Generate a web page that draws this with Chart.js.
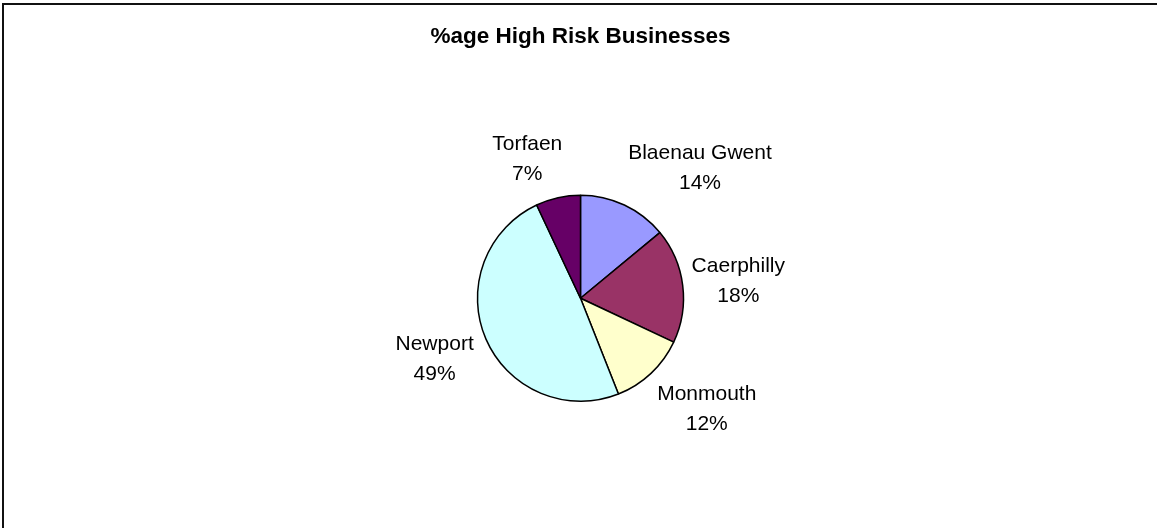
<!DOCTYPE html>
<html lang="en">
<head>
    <meta charset="UTF-8">
    <title>%age High Risk Businesses</title>
    <script src="https://cdn.jsdelivr.net/npm/chart.js"></script>
    <style>
        html, body {
            margin: 0;
            padding: 0;
            background: #fff;
            overflow: hidden;
        }
        .frame {
            position: absolute;
            left: 2px;
            top: 3px;
            width: 1200px;
            height: 600px;
            border-left: 2px solid #111;
            border-top: 2px solid #111;
        }
        .chart-container {
            position: relative;
            width: 1157px;
            height: 528px;
        }
    </style>
</head>
<body>
    <div class="frame"></div>
    <div class="chart-container">
        <canvas id="pieChart"></canvas>
    </div>
    <script>
        const chartTitle = '%age High Risk Businesses';
        const areas = ['Blaenau Gwent', 'Caerphilly', 'Monmouth', 'Newport', 'Torfaen'];
        const shares = [14, 18, 12, 49, 7];
        const sliceColors = ['#9999FF', '#993366', '#FFFFCC', '#CCFFFF', '#660066'];

        const fontFamily = "'Liberation Sans', Arial, sans-serif";

        // Excel-style "outside end" labels: name on top, percentage below
        const outsideLabels = {
            id: 'outsideLabels',
            afterDatasetsDraw(chart) {
                const ctx = chart.ctx;
                const meta = chart.getDatasetMeta(0);
                const values = chart.data.datasets[0].data;
                const total = values.reduce((s, v) => s + v, 0);
                const clamp = v => Math.max(-1, Math.min(1, v));
                ctx.save();
                ctx.font = '21px ' + fontFamily;
                ctx.fillStyle = '#000';
                ctx.textAlign = 'center';
                ctx.textBaseline = 'alphabetic';
                meta.data.forEach((arc, i) => {
                    const p = arc.getProps(['x', 'y', 'startAngle', 'endAngle', 'outerRadius'], true);
                    const mid = (p.startAngle + p.endAngle) / 2;
                    const name = chart.data.labels[i];
                    const pct = Math.round(values[i] / total * 100) + '%';
                    const w = Math.max(ctx.measureText(name).width, ctx.measureText(pct).width);
                    const h = 45;
                    const dx = p.outerRadius + 9;
                    const dy = p.outerRadius + 18;
                    const fx = clamp(Math.cos(mid) * 3.25);
                    const fy = clamp(Math.sin(mid) * 1.28);
                    // labels on the left side sit a little further out
                    const shift = Math.cos(mid) < 0 ? -4 : 0;
                    const cx = p.x + dx * Math.cos(mid) + fx * w / 2 + shift;
                    const cy = p.y + dy * Math.sin(mid) + fy * h / 2;
                    const base = cy - h / 2 + 15;
                    ctx.fillText(name, cx, base);
                    ctx.fillText(pct, cx, base + 30);
                });
                ctx.restore();
            }
        };

        const ctx = document.getElementById('pieChart').getContext('2d');
        const pieChart = new Chart(ctx, {
            type: 'pie',
            data: {
                labels: areas,
                datasets: [{
                    data: shares,
                    backgroundColor: sliceColors,
                    borderColor: '#000',
                    borderWidth: 1.5
                }]
            },
            options: {
                responsive: true,
                maintainAspectRatio: false,
                animation: false,
                radius: 103,
                layout: {
                    padding: { left: 4, right: 0, top: 0, bottom: 0 }
                },
                plugins: {
                    legend: { display: false },
                    tooltip: { enabled: false },
                    title: {
                        display: true,
                        text: chartTitle,
                        color: '#000',
                        font: { family: fontFamily, size: 22.5, weight: 'bold', lineHeight: 1.2 },
                        padding: { top: 23.5, bottom: 18 }
                    }
                }
            },
            plugins: [outsideLabels]
        });
    </script>
</body>
</html>
